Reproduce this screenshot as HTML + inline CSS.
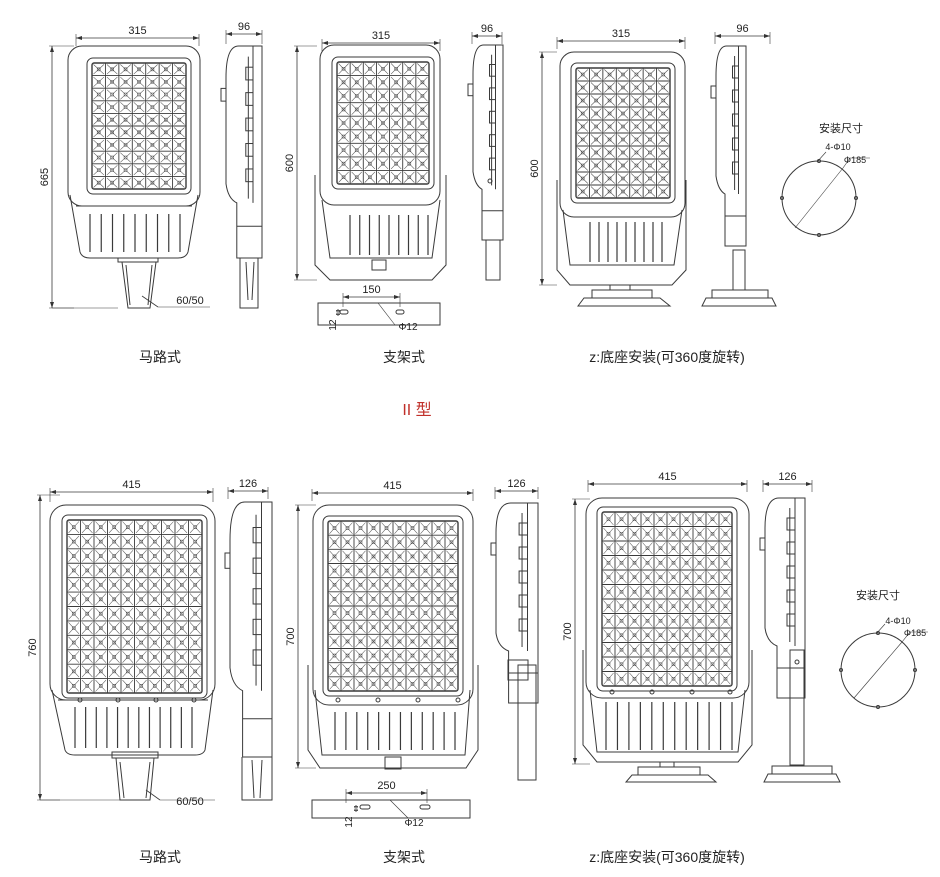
<!DOCTYPE html>
<html><head><meta charset="utf-8"><style>
html,body{margin:0;padding:0;background:#fff;width:940px;height:877px;overflow:hidden}
svg{display:block}
text{font-family:"Liberation Sans","Noto Sans CJK SC",sans-serif;fill:#222}
</style></head><body>
<svg id="s" width="940" height="877" viewBox="0 0 940 877" xmlns="http://www.w3.org/2000/svg">
<g id="g" fill="none" stroke="#3a3a3a" stroke-width="1"></g>
<text x="160" y="362" font-size="14" text-anchor="middle">马路式</text>
<text x="404" y="362" font-size="14" text-anchor="middle">支架式</text>
<text x="667" y="362" font-size="14" text-anchor="middle">z:底座安装(可360度旋转)</text>
<text x="417" y="415" font-size="16" text-anchor="middle" style="fill:#c0302a">II 型</text>
<text x="160" y="862" font-size="14" text-anchor="middle">马路式</text>
<text x="404" y="862" font-size="14" text-anchor="middle">支架式</text>
<text x="667" y="862" font-size="14" text-anchor="middle">z:底座安装(可360度旋转)</text>
</svg>
<script>
var g=document.getElementById('g'),S=document.getElementById('s'),h='',t='';
function L(a,b,c,d,w){h+='<line x1="'+a+'" y1="'+b+'" x2="'+c+'" y2="'+d+'"'+(w?' stroke-width="'+w+'"':'')+'/>';}
function R(x,y,w,hh,r,extra){h+='<rect x="'+x+'" y="'+y+'" width="'+w+'" height="'+hh+'" rx="'+(r||0)+'"'+(extra||'')+'/>';}
function P(d,extra){h+='<path d="'+d+'"'+(extra||'')+'/>';}
function C(x,y,r){h+='<circle cx="'+x+'" cy="'+y+'" r="'+r+'"/>';}
function T(x,y,s,sz,rot,anc){t+='<text x="'+x+'" y="'+y+'" font-size="'+(sz||11)+'" text-anchor="'+(anc||'middle')+'"'+(rot?' transform="rotate(-90 '+x+' '+y+')"':'')+'>'+s+'</text>';}
function arrH(x1,x2,y){L(x1,y,x2,y,0.8);P('M'+x1+' '+y+'l6 -2v4z M'+x2+' '+y+'l-6 -2v4z',' fill="#333" stroke="none"');}
function arrV(x,y1,y2){L(x,y1,x,y2,0.8);P('M'+x+' '+y1+'l-2 6h4z M'+x+' '+y2+'l-2 -6h4z',' fill="#333" stroke="none"');}
function dimH(x1,x2,y,ext,lab){L(x1,y-4,x1,y+ext,0.6);L(x2,y-4,x2,y+ext,0.6);arrH(x1,x2,y);T((x1+x2)/2,y-4,lab,11);}
function dimV(x,y1,y2,ext,lab){L(x-3,y1,x+ext,y1,0.6);L(x-3,y2,x+ext,y2,0.6);arrV(x,y1,y2);T(x-4,(y1+y2)/2,lab,11,1);}
function grid(x,y,w,hh,c,r){
 R(x-5,y-5,w+10,hh+10,6);R(x,y,w,hh,2,' stroke-width="1.4"');
 var cw=w/c,ch=hh/r,i,j;
 for(i=1;i<c;i++)L(x+i*cw,y,x+i*cw,y+hh,0.9);
 for(j=1;j<r;j++)L(x,y+j*ch,x+w,y+j*ch,0.9);
 var d='';
 for(i=0;i<c;i++)for(j=0;j<r;j++){var a=x+i*cw,b=y+j*ch;
  d+='M'+(a+1.5)+' '+(b+1.5)+'L'+(a+cw-1.5)+' '+(b+ch-1.5)+'M'+(a+cw-1.5)+' '+(b+1.5)+'L'+(a+1.5)+' '+(b+ch-1.5);
  d+='M'+(a+cw/2-1.5)+' '+(b+ch/2-1.5)+'h3v3h-3z';}
 P(d,' stroke-width="0.55" stroke="#555"');
}
function fins(x1,x2,y1,y2,n){var s=(x2-x1)/(n-1);for(var i=0;i<n;i++)L(x1+i*s,y1,x1+i*s,y2,1.2);}
function side(x,y,w,hh){
 P('M'+(x+w*0.35)+' '+y+'Q'+x+' '+y+' '+x+' '+(y+hh*0.15)+'L'+x+' '+(y+hh*0.65)+'Q'+(x+2)+' '+(y+hh*0.72)+' '+(x+w*0.3)+' '+(y+hh*0.74)+'L'+(x+w*0.3)+' '+(y+hh)+'H'+(x+w)+'V'+y+'Z');
 L(x+w*0.75,y,x+w*0.75,y+hh*0.74);L(x+w*0.62,y+hh*0.05,x+w*0.62,y+hh*0.72);
 for(var k=0;k<5;k++)R(x+w*0.55,y+hh*(0.1+k*0.12),w*0.2,hh*0.06,0);
 R(x-5,y+hh*0.2,5,hh*0.06);
 L(x+w*0.3,y+hh*0.85,x+w,y+hh*0.85);
}
// top row 1
R(68,46,132,160,14);grid(92,63,94,126,7,10);
P('M70 195 L80 252 Q82 258 90 258 H178 Q186 258 188 252 L198 195');L(76,206,192,206);fins(90,180,214,252,9);
R(118,258,40,4);P('M122 262 L128 308 H150 L156 262');L(126,265,130,305);L(152,265,148,305);
dimH(76,199,38,8,'315');dimV(52,46,308,22,'665');L(52,308,118,308,0.6);
L(142,296,158,307,0.8);L(158,307,210,307,0.6);T(190,304,'60/50',11);
side(226,46,36,212);P('M240 258 V308 H258 V258');L(246,262,248,300);L(254,262,252,300);
dimH(226,262,34,10,'96');
// top row 2
P('M315 175 V265 L330 280 H432 L446 265 V175');R(320,45,120,160,14);grid(337,62,92,122,7,9);
P('M322 200 L330 258 H432 L440 200');fins(350,428,215,255,9);R(372,260,14,10);
dimH(322,440,43,8,'315');dimV(297,46,280,20,'600');
side(473,45,30,195);R(486,240,14,40);C(490,181,2);
dimH(472,502,36,8,'96');
R(318,303,122,22);dimH(343,400,297,10,'150');R(340,310,8,4,2);R(396,310,8,4,2);
L(378,303,395,325,0.6);T(408,330,'Φ12',10);arrV(338,309,316);T(336,325,'12',10,1);
// top row 3
P('M557 180 V270 L570 285 H672 L686 270 V180');R(560,52,125,165,14);grid(576,68,94,130,7,10);
P('M563 210 L570 265 H674 L682 210');fins(590,662,222,262,9);
R(610,285,20,5);R(592,290,60,8);P('M584 298 H660 L670 306 H578 Z');
dimH(557,685,41,8,'315');dimV(542,52,285,15,'600');
side(716,46,30,200);R(733,250,12,40);R(712,290,56,8);P('M706 298 H772 L776 306 H702 Z');
dimH(715,770,36,8,'96');
C(819,198,37);L(795,228,843,168,0.6);L(817,162,826,152,0.6);L(843,168,850,158,0.6);L(850,158,870,158,0.6);
C(819,161,1.5);C(856,198,1.5);C(782,198,1.5);C(819,235,1.5);
T(841,132,'安装尺寸',11);T(838,150,'4-Φ10',9);T(855,163,'Φ185',9);
// bottom row 1
R(50,505,165,195,16);grid(67,520,135,173,10,12);
P('M52 690 L65 750 Q67 755 75 755 H195 Q203 755 205 750 L213 690');L(58,700,208,700);fins(75,192,707,748,12);
[80,118,156,194].forEach(function(x){C(x,700,2)});
R(112,752,46,6);P('M116 758 L120 800 H150 L154 758');L(120,762,124,798);L(150,762,146,798);
dimH(50,213,492,10,'415');dimV(40,495,800,20,'760');L(40,800,120,800,0.6);
L(146,790,160,800,0.8);L(160,800,215,800,0.6);T(190,805,'60/50',11);
side(230,502,42,255);P('M242 757 V800 H272 V757');L(252,760,254,798);L(262,760,260,798);
dimH(228,268,491,8,'126');
// bottom row 2
P('M308 665 V750 L320 768 H466 L478 750 V665');R(313,505,160,200,16);grid(328,521,130,170,10,12);
P('M315 690 L322 755 H465 L470 690');fins(335,455,712,750,12);R(385,757,16,12);
[338,378,418,458].forEach(function(x){C(x,700,2)});
dimH(312,473,493,8,'415');dimV(298,505,768,18,'700');
side(496,503,42,200);R(518,665,18,115);R(508,660,20,20);
dimH(495,538,491,8,'126');
R(312,800,158,18);dimH(346,427,793,10,'250');R(360,805,10,4,2);R(420,805,10,4,2);
L(390,800,408,818,0.6);T(414,826,'Φ12',10);arrV(356,805,812);T(352,822,'12',10,1);
// bottom row 3
P('M583 650 V745 L597 762 H738 L752 745 V650');R(586,498,163,200,16);grid(602,512,130,174,10,12);
P('M590 690 L597 752 H738 L745 690');fins(606,732,702,750,12);
[612,652,692,730].forEach(function(x){C(x,692,2)});
R(660,762,14,5);R(638,767,62,8);P('M632 775 H708 L716 782 H626 Z');
dimH(588,747,484,8,'415');dimV(575,499,764,15,'700');
side(765,498,40,200);R(790,650,14,115);R(772,766,60,8);P('M768 774 H836 L840 782 H764 Z');C(797,662,2);
dimH(763,812,484,8,'126');
C(878,670,37);L(854,698,902,642,0.6);L(876,634,885,624,0.6);L(902,642,910,632,0.6);L(910,632,928,632,0.6);
C(878,633,1.5);C(915,670,1.5);C(841,670,1.5);C(878,707,1.5);
T(878,599,'安装尺寸',11);T(898,624,'4-Φ10',9);T(915,636,'Φ185',9);
g.innerHTML=h;
S.insertAdjacentHTML('beforeend',t);
</script>
</body></html>
